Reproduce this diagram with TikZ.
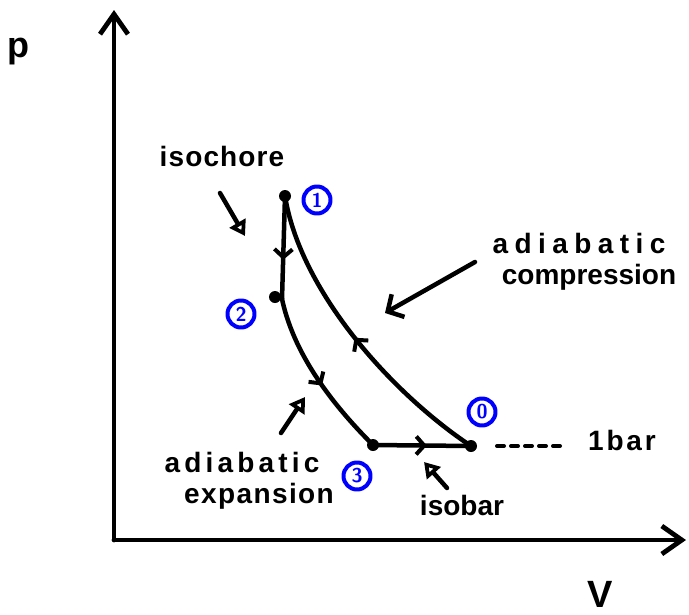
\documentclass[tikz,border=0pt]{standalone}
\usepackage{fontspec}
\newfontfamily\hand{Liberation Sans Bold}
\usetikzlibrary{arrows.meta,decorations.markings}
\newcommand{\ls}[2]{{\addfontfeatures{LetterSpace=#1}#2}}
\begin{document}
\begin{tikzpicture}[x=1pt,y=-1pt,line cap=round,line join=round,
  axis/.style={line width=4.8pt,-{Straight Barb[length=20pt,width=28pt,line width=4.8pt]}},
  curve/.style={line width=4.5pt},
  midarrow/.style={postaction={decorate},decoration={markings,
     mark=at position #1 with {\arrow{Straight Barb[length=8pt,width=18pt,line width=4pt]}}}},
  ptdot/.style={circle,fill=black,inner sep=0pt,minimum size=12pt},
  numlab/.style={circle,draw=blue,line width=4pt,text=blue,inner sep=0pt,minimum size=27pt,
     font=\fontsize{20}{20}\selectfont\bfseries\sffamily},
  txt/.style={font=\hand\fontsize{28}{32}\selectfont,inner sep=0pt},
  pointer/.style={line width=4.5pt,-{Triangle[open,length=15pt,width=18pt,line width=4pt]}},
  barbpointer/.style={line width=4.5pt,-{Straight Barb[length=12pt,width=26pt,line width=4.5pt]}}]
\useasboundingbox (0,0) rectangle (689,614);

% axes
\coordinate (O) at (114,540);
\coordinate (ytop) at (114,10);
\coordinate (xend) at (686,540);
\draw[axis] (O) -- (ytop);
\draw[axis] (O) -- (xend);
\node[font=\hand\fontsize{36}{36}\selectfont,inner sep=0pt] (plab) at (18,52) {p};
\node[font=\hand\fontsize{38}{38}\selectfont,inner sep=0pt] (vlab) at (600,594) {V};

% state points
\node[ptdot] (p1) at (285,196) {};
\node[ptdot] (p2) at (275,297) {};
\node[ptdot] (p3) at (373,445) {};
\node[ptdot] (p0) at (471,446) {};
\coordinate (p2l) at (282,299);

% cycle
\draw[curve,midarrow=0.62] (p1.center) -- (p2l);
\draw[curve,midarrow=0.55] (p2l) .. controls (295,360) and (340,412) .. (p3.center);
\draw[curve,midarrow=0.55] (p3.center) -- (p0.center);
\draw[curve,midarrow=0.5] (p0.center) .. controls (390,392) and (300,290) .. (p1.center);

% numbers
\node[numlab] (n1) at (317,200) {1};
\node[numlab] (n2) at (241,314) {2};
\node[numlab] (n3) at (357,476) {3};
\node[numlab] (n0) at (482,412) {0};

% 1 bar
\coordinate (dashstart) at (497,446);
\coordinate (dashend) at (562,446);
\draw[line width=4pt,dash pattern=on 7pt off 7pt] (dashstart) -- (dashend);
\node[txt] (bar) at (622,440) {\ls{10}{1bar}};

% labels
\node[txt] (iso) at (222,156) {\ls{4}{isochore}};
\coordinate (isoA) at (220,193);
\coordinate (isoB) at (245,236);
\draw[pointer] (isoA) -- (isoB);

\node[txt] (ac1) at (579,243) {\ls{23}{adiabatic}};
\node[txt] (ac2) at (589,277) {compression};
\coordinate (acA) at (475,262);
\coordinate (acB) at (385,313);
\draw[barbpointer] (acA) -- (acB);

\node[txt] (ae1) at (242,462) {\ls{15}{adiabatic}};
\node[txt] (ae2) at (259,496) {\ls{5}{expansion}};
\coordinate (aeA) at (281,433);
\coordinate (aeB) at (305,397);
\draw[pointer] (aeA) -- (aeB);

\node[txt] (ib) at (462,505) {isobar};
\coordinate (ibA) at (447,488);
\coordinate (ibB) at (424,462);
\draw[pointer] (ibA) -- (ibB);
\end{tikzpicture}
\end{document}
